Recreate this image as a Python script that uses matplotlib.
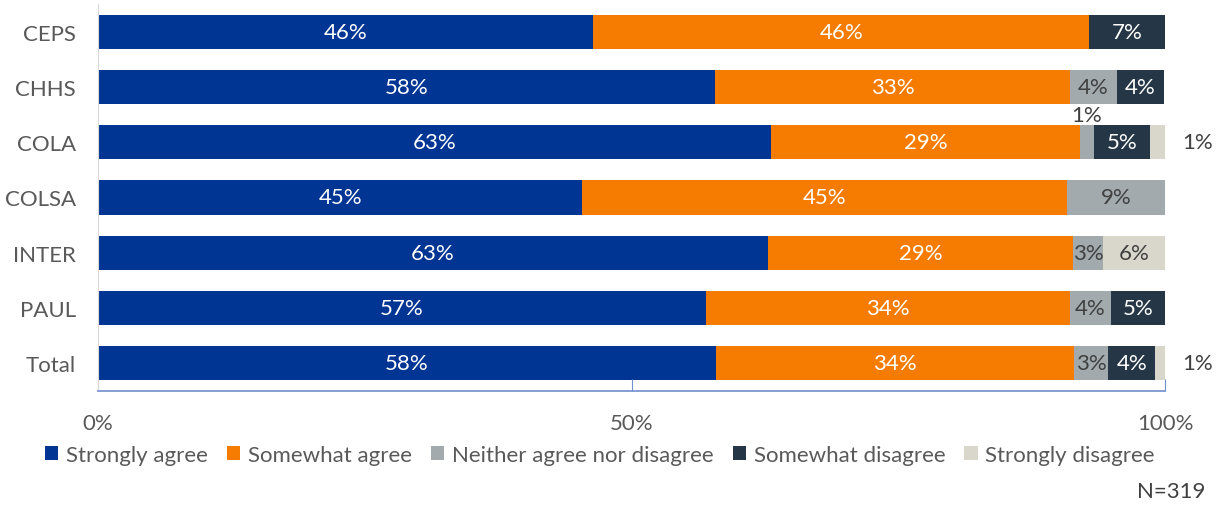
import matplotlib
matplotlib.use("Agg")
import matplotlib.pyplot as plt
import numpy as np

plt.rcParams['font.family'] = ['Lato', 'DejaVu Sans']

categories = ["CEPS", "CHHS", "COLA", "COLSA", "INTER", "PAUL", "Total"]
series_names = ["Strongly agree", "Somewhat agree", "Neither agree nor disagree",
                "Somewhat disagree", "Strongly disagree"]
strongly_agree = [46.4, 57.8, 63.1, 45.4, 62.8, 57.0, 57.9]
somewhat_agree = [46.5, 33.3, 28.9, 45.4, 28.6, 34.1, 33.6]
neither = [0.0, 4.4, 1.3, 9.2, 2.8, 3.8, 3.2]
somewhat_disagree = [7.1, 4.4, 5.3, 0.0, 0.0, 5.1, 4.4]
strongly_disagree = [0.0, 0.0, 1.4, 0.0, 5.8, 0.0, 0.9]
xtick_labels = ["0%", "50%", "100%"]
note = "N=319"

colors = ["#003594", "#F57C00", "#A2AAAD", "#253746", "#D9D6CB"]
text_colors = ["white", "white", "#404040", "white", "#404040"]
series = [strongly_agree, somewhat_agree, neither, somewhat_disagree, strongly_disagree]

fig = plt.figure(figsize=(12.2, 5.06), dpi=100)
ax = fig.add_axes([98/1220, 1-392/506, (1165-98)/1220, (392-5)/506])

y = np.arange(len(categories))
left = np.zeros(len(categories))
fs = 16
for si, (vals, c) in enumerate(zip(series, colors)):
    vals = np.array(vals)
    ax.barh(y, vals, left=left, height=0.62, color=c, label=series_names[si])
    for i, v in enumerate(vals):
        if v <= 0:
            continue
        cx = left[i] + v / 2
        lab = f"{v:.0f}%"
        if v < 2:
            if si == 4:
                ax.text(left[i] + v + 1.6, y[i], lab, ha='left', va='center',
                        fontsize=fs, color="#404040")
            else:
                ax.text(cx, y[i] - 0.5, lab, ha='center', va='center',
                        fontsize=fs, color="#404040")
        else:
            ax.text(cx, y[i], lab, ha='center', va='center', fontsize=fs,
                    color=text_colors[si])
    left = left + vals

ax.set_xlim(0, 100)
ax.set_ylim(len(categories) - 0.5, -0.5)
ax.set_yticks(y)
ax.set_yticklabels(categories, fontsize=fs, color="#595959")
ax.tick_params(axis='y', length=0, pad=16)
ax.set_xticks([0, 50, 100])
ax.set_xticklabels(xtick_labels, fontsize=fs, color="#595959")
ax.tick_params(axis='x', direction='in', length=9, color="#6F8FCF", pad=16)
for s in ['top', 'right']:
    ax.spines[s].set_visible(False)
ax.spines['left'].set_color("#D9D9D9")
ax.spines['bottom'].set_color("#6F8FCF")
ax.spines['bottom'].set_linewidth(1.2)

handles, labels = ax.get_legend_handles_labels()
fig.legend(handles, labels, loc='center', bbox_to_anchor=(600/1220, 1-456/506),
           ncol=5, frameon=False, fontsize=fs, handlelength=0.6, handleheight=0.6,
           handletextpad=0.35, columnspacing=0.85, labelcolor="#595959")
fig.text(1205/1220, 1-492/506, note, ha='right', va='center', fontsize=fs, color="#404040")

fig.savefig("out.png", dpi=100)
